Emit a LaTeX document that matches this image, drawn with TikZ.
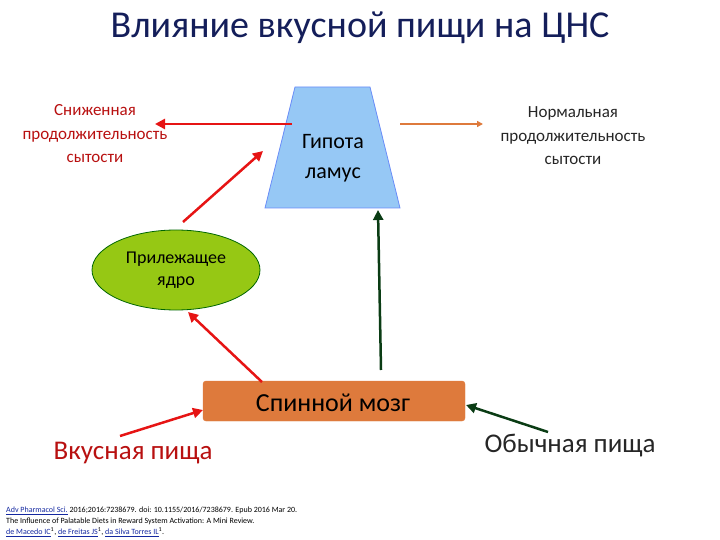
\documentclass[tikz,border=0pt]{standalone}
\usepackage{fontspec}
\setmainfont{Carlito}
\usetikzlibrary{shapes.geometric,arrows.meta}
\definecolor{redc}{RGB}{230,20,20}
\definecolor{dgreen}{RGB}{10,60,20}
\definecolor{orangec}{RGB}{222,122,60}
\definecolor{bluec}{RGB}{150,200,245}
\definecolor{greenc}{RGB}{150,200,20}
\definecolor{titlec}{RGB}{20,30,90}
\definecolor{linkc}{RGB}{20,40,160}
\tikzset{
 redarr/.style={draw=redc,line width=2.5pt,-{Triangle[length=10pt,width=10pt]}},
 grnarr/.style={draw=dgreen,line width=2.5pt,-{Triangle[length=10pt,width=10pt]}},
 lbl/.style={align=center,font=\fontsize{17}{23.5}\selectfont}
}
\begin{document}
\begin{tikzpicture}[x=1pt,y=-1pt]
\useasboundingbox (0,0) rectangle (720,540);
\node[font=\fontsize{38}{40}\selectfont,text=titlec] (title) at (360,28) {Влияние вкусной пищи на ЦНС};
\draw[draw=bluec!70!blue,fill=bluec,line width=0.8pt] (295,87) -- (370,87) -- (400,208) -- (265,208) -- cycle;
\node[align=center,font=\fontsize{22}{30}\selectfont] (hyp) at (333,158) {Гипота\\ламус};
\coordinate (hl) at (292,124);
\coordinate (hr) at (400,124);
\coordinate (hb) at (378,210);
\coordinate (hbl) at (263,151);
\node[ellipse,draw=green!40!black,fill=greenc,line width=0.8pt,minimum width=168pt,minimum height=80pt] (ell) at (176,270) {};
\node[align=center,font=\fontsize{18}{22}\selectfont] (elltext) at (176,270) {Прилежащее\\ядро};
\node[draw=orangec,fill=orangec,rounded corners=3pt,minimum width=262pt,minimum height=40pt] (sc) at (334,401) {};
\node[font=\fontsize{26}{28}\selectfont] (sctext) at (333,403) {Спинной мозг};
\node[lbl,text=redc!80!black] (left) at (95,134) {Сниженная\\продолжительность\\сытости};
\node[lbl,text=black!85] (right) at (573,136) {Нормальная\\продолжительность\\сытости};
\node[font=\fontsize{27}{30}\selectfont,text=redc!80!black] (tasty) at (133,453) {Вкусная пища};
\node[font=\fontsize{27}{30}\selectfont,text=black!85] (normal) at (570,446) {Обычная пища};
\draw[redarr] (hl) -- (155,124);
\draw[draw=orangec,line width=1.5pt,-{Triangle[length=6pt,width=6pt]}] (hr) -- (483,124);
\draw[redarr] (183,222) -- (hbl);
\draw[redarr] (262,382) -- (188,312);
\draw[redarr] (120,436) -- (203,410);
\draw[grnarr] (381,370) -- (hb);
\draw[grnarr] (548,432) -- (466,405);
\node[anchor=north west,align=left,font=\fontsize{8}{11}\selectfont,inner sep=0pt] (cite) at (6,507) {\textcolor{linkc}{\underline{Adv Pharmacol Sci.}} 2016;2016:7238679. doi: 10.1155/2016/7238679. Epub 2016 Mar 20.\\The Influence of Palatable Diets in Reward System Activation: A Mini Review.\\\textcolor{linkc}{\underline{de Macedo IC}}\textsuperscript{1}, \textcolor{linkc}{\underline{de Freitas JS}}\textsuperscript{1}, \textcolor{linkc}{\underline{da Silva Torres IL}}\textsuperscript{1}.};
\end{tikzpicture}
\end{document}
